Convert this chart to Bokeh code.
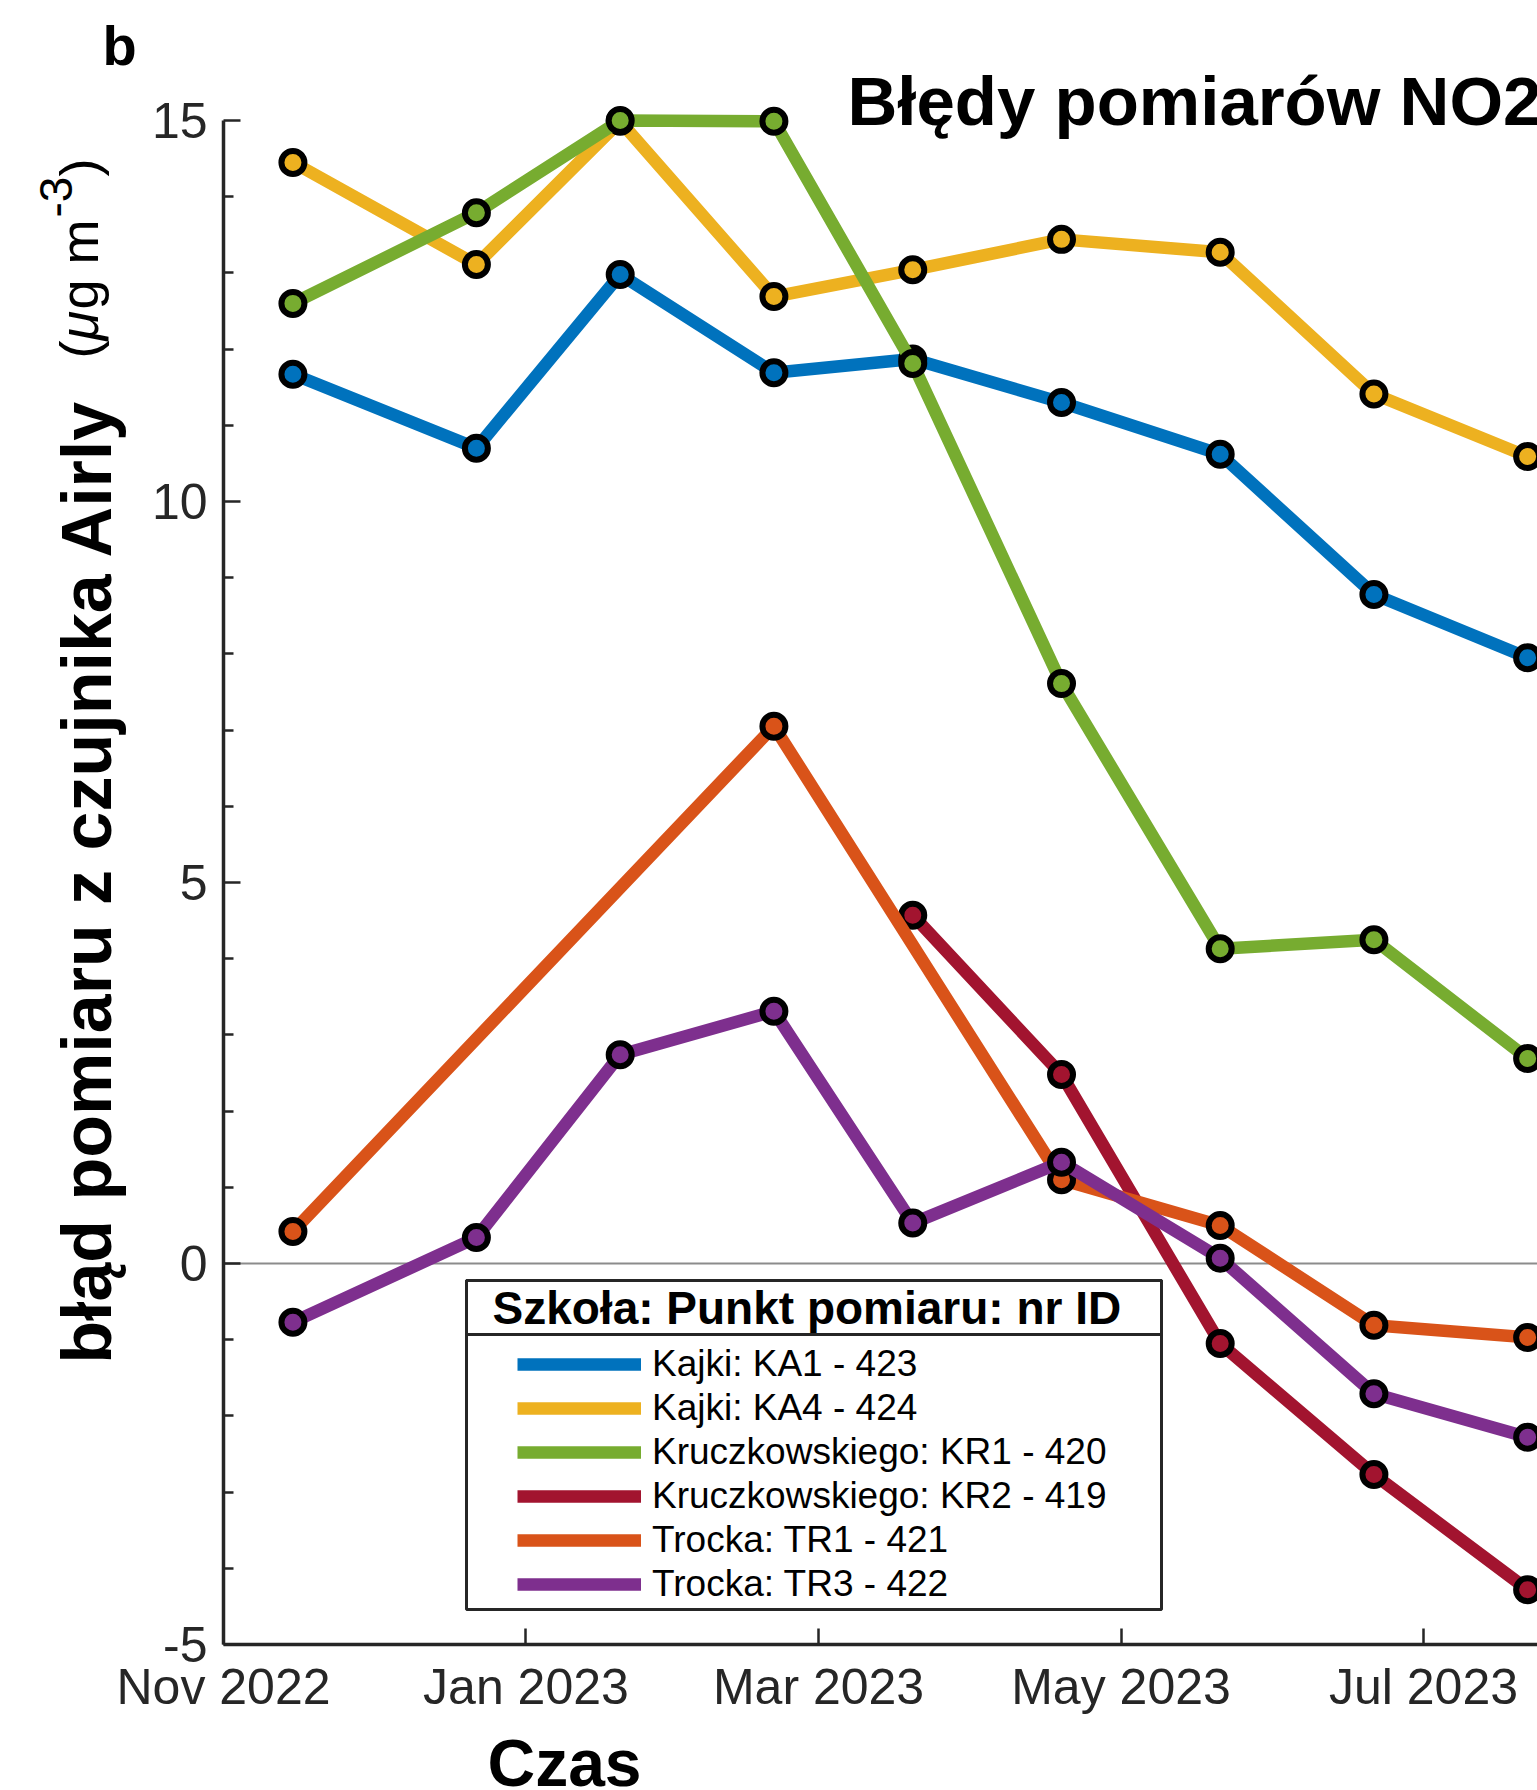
import math
import pandas as pd
from bokeh.plotting import figure
from bokeh.models import (Range1d, FixedTicker, Label, Legend, LegendItem,
                          BoxAnnotation, ColumnDataSource)
from bokeh.embed import file_html
from bokeh.resources import INLINE

# ---- data -------------------------------------------------------------
dates = ["2022-11-15", "2022-12-22", "2023-01-20", "2023-02-20", "2023-03-20",
         "2023-04-19", "2023-05-21", "2023-06-21", "2023-07-22"]

series_names = ["Kajki: KA1 - 423", "Kajki: KA4 - 424", "Kruczkowskiego: KR1 - 420",
                "Kruczkowskiego: KR2 - 419", "Trocka: TR1 - 421", "Trocka: TR3 - 422"]
series_colors = ["#0072BD", "#EDB120", "#77AC30", "#A2142F", "#D95319", "#7E2F8E"]

ka1 = [11.67, 10.70, 12.98, 11.69, 11.87, 11.30, 10.62, 8.78, 7.95]
ka4 = [14.45, 13.11, 14.99, 12.69, 13.04, 13.44, 13.27, 11.41, 10.59]
kr1 = [12.60, 13.79, 15.00, 14.99, 11.81, 7.61, 4.13, 4.25, 2.69]
kr2 = [None, None, None, None, 4.57, 2.48, -1.05, -2.77, -4.28]
tr1 = [0.42, None, None, 7.05, None, 1.10, 0.50, -0.81, -0.97]
tr3 = [-0.77, 0.34, 2.74, 3.31, 0.53, 1.33, 0.07, -1.71, -2.28]
series_values = [ka1, ka4, kr1, kr2, tr1, tr3]

y_ticks = [-5, 0, 5, 10, 15]
y_tick_labels = ["-5", "0", "5", "10", "15"]
y_minor = [v for v in range(-5, 16) if v not in y_ticks]
x_tick_dates = ["2022-11-01", "2023-01-01", "2023-03-01", "2023-05-01", "2023-07-01"]
x_tick_labels = ["Nov 2022", "Jan 2023", "Mar 2023", "May 2023", "Jul 2023"]

# ---- geometry (page pixels) -------------------------------------------
W, H = 1537, 1790
AXIS_X, AXIS_TOP, AXIS_BOTTOM = 223, 120, 1644   # where the axes sit on the page
DAY_MS = 86400000.0
PX_PER_DAY = 1200.0 / 242.0
PX_PER_UNIT = (AXIS_BOTTOM - AXIS_TOP) / 20.0


def ms(d):
    return pd.Timestamp(d).value / 1e6


axis_x0 = ms("2022-11-01")
view_x0 = axis_x0 - AXIS_X / PX_PER_DAY * DAY_MS
view_x1 = view_x0 + W / PX_PER_DAY * DAY_MS
view_y1 = 15 + AXIS_TOP / PX_PER_UNIT
view_y0 = -5 - (H - AXIS_BOTTOM) / PX_PER_UNIT

FONT = "Liberation Sans"
AX = "#262626"

p = figure(width=W, height=H, x_axis_type="datetime",
           x_range=Range1d(view_x0, view_x1), y_range=Range1d(view_y0, view_y1),
           output_backend="svg", toolbar_location=None, min_border=0)
p.outline_line_color = None
p.xgrid.visible = False
p.ygrid.visible = False
p.background_fill_color = "white"
p.border_fill_color = "white"

# zero reference line, from the y axis to the right edge
p.segment(x0=[axis_x0], y0=[0], x1=[view_x1], y1=[0], line_color="#8c8c8c",
          line_width=2)

# ---- series -----------------------------------------------------------
line_renderers = []
for name, color, vals in zip(series_names, series_colors, series_values):
    xs = [pd.Timestamp(d) for d, v in zip(dates, vals) if v is not None]
    ys = [v for v in vals if v is not None]
    src = ColumnDataSource(data=dict(x=xs, y=ys))
    lr = p.line("x", "y", source=src, line_color=color, line_width=12.5,
                line_join="round")
    p.scatter("x", "y", source=src, marker="circle", size=23,
              fill_color=color, line_color="black", line_width=6)
    line_renderers.append(lr)

# ---- axes (pinned inside the frame) -----------------------------------
xa = p.xaxis[0]
xa.fixed_location = -5
xa.bounds = (axis_x0, view_x1)
xa.ticker = FixedTicker(ticks=[ms(d) for d in x_tick_dates], minor_ticks=[])
xa.major_label_overrides = {ms(d): lab for d, lab in zip(x_tick_dates, x_tick_labels)}
ya = p.yaxis[0]
ya.fixed_location = axis_x0
ya.bounds = (-5, 15)
ya.ticker = FixedTicker(ticks=y_ticks, minor_ticks=y_minor)
ya.major_label_overrides = {t: lab for t, lab in zip(y_ticks, y_tick_labels)}

for ax in (xa, ya):
    ax.axis_line_color = AX
    ax.axis_line_width = 3.5
    ax.major_tick_line_color = AX
    ax.major_tick_line_width = 2.5
    ax.major_tick_out = 0
    ax.minor_tick_out = 0
    ax.minor_tick_line_color = AX
    ax.minor_tick_line_width = 2.5
    ax.major_label_text_font = FONT
    ax.major_label_text_font_size = "50px"
    ax.major_label_text_color = AX
xa.major_tick_in = 16
xa.major_label_standoff = 14
ya.major_tick_in = 17
ya.minor_tick_in = 10
ya.major_label_standoff = 16


# screen helpers: frame spans the whole page, origin bottom-left
def sx(px):
    return px


def sy(py):
    return H - py


BASE = 0.355   # baseline correction, fraction of the font size

# ---- legend -----------------------------------------------------------
legend_box = BoxAnnotation(left=sx(466), right=sx(1161), top=sy(1280), bottom=sy(1609),
                           left_units="screen", right_units="screen",
                           top_units="screen", bottom_units="screen",
                           fill_color="white", fill_alpha=1.0,
                           line_color=AX, line_alpha=1.0, line_width=3)
p.add_layout(legend_box)

legend = Legend(items=[LegendItem(label=n, renderers=[r])
                       for n, r in zip(series_names, line_renderers)],
                location=(sx(517), sy(1605)), padding=0, margin=0, spacing=2,
                border_line_color=None, background_fill_alpha=0,
                glyph_width=124, glyph_height=20, label_height=42, label_standoff=11,
                label_text_font=FONT, label_text_font_size="37px",
                label_text_color="black")
p.add_layout(legend)

title_box = BoxAnnotation(left=sx(466), right=sx(1161), top=sy(1280), bottom=sy(1334),
                          left_units="screen", right_units="screen",
                          top_units="screen", bottom_units="screen",
                          fill_alpha=0, line_color=AX, line_alpha=1.0, line_width=3,
                          level="overlay")
p.add_layout(title_box)


def label(px, py, text, size, style="normal", align="left", angle=0.0):
    if angle:
        x, y = px - BASE * size, py
    else:
        x, y = px, py - BASE * size
    p.add_layout(Label(x=sx(x), y=sy(y), x_units="screen", y_units="screen",
                       text=text, text_font=FONT, text_font_style=style,
                       text_font_size=f"{size}px", text_color="black",
                       text_align=align, text_baseline="alphabetic", angle=angle))


label(492, 1324, "Szkoła: Punkt pomiaru: nr ID", 46, "bold")

# ---- titles and axis labels ------------------------------------------
label(847, 125, "Błędy pomiarów NO2", 69, "bold")
label(102, 65, "b", 56, "bold")
label(487, 1786, "Czas", 66, "bold")

up = math.pi / 2
label(111, 881, "błąd pomiaru z czujnika Airly", 70, "bold", "center", up)
label(98, 358, "(", 54, angle=up)
label(98, 340, "μ", 54, "italic", angle=up)
label(98, 309, "g m", 54, angle=up)
label(72, 217, "-3", 46, angle=up)
label(98, 176, ")", 54, angle=up)

open("out.html", "w").write(file_html(p, INLINE))
